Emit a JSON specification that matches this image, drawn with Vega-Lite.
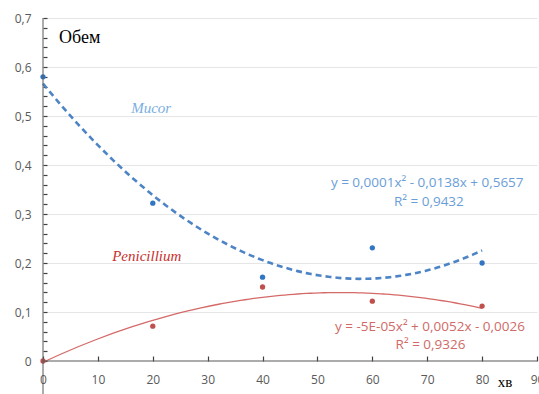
{
  "$schema": "https://vega.github.io/schema/vega-lite/v6.json",
  "autosize": "none",
  "width": 494,
  "height": 343,
  "padding": {"left": 43, "top": 18, "right": 2, "bottom": 33},
  "background": "white",
  "config": {
    "view": {"stroke": null},
    "font": "Open Sans",
    "axis": {"labelColor": "#595959", "labelFontSize": 12, "labelFont": "Open Sans", "labelFontWeight": "normal"}
  },
  "resolve": {"axis": {"y": "independent"}},
  "datasets": {
    "points": [
      {"series": "Mucor", "x": 0, "y": 0.58},
      {"series": "Mucor", "x": 20, "y": 0.322},
      {"series": "Mucor", "x": 40, "y": 0.171},
      {"series": "Mucor", "x": 60, "y": 0.231},
      {"series": "Mucor", "x": 80, "y": 0.2},
      {"series": "Penicillium", "x": 0, "y": 0.0},
      {"series": "Penicillium", "x": 20, "y": 0.071},
      {"series": "Penicillium", "x": 40, "y": 0.151},
      {"series": "Penicillium", "x": 60, "y": 0.122},
      {"series": "Penicillium", "x": 80, "y": 0.112}
    ]
  },
  "layer": [
    {
      "data": {"name": "points"},
      "transform": [
        {"filter": "datum.series == 'Mucor'"},
        {"regression": "y", "on": "x", "method": "poly", "order": 2, "extent": [0, 80]}
      ],
      "mark": {"type": "line", "color": "#4d84c6", "strokeWidth": 2.6, "strokeDash": [6, 4]},
      "encoding": {
        "x": {
          "field": "x", "type": "quantitative",
          "scale": {"domain": [0, 90], "nice": false, "zero": false},
          "axis": {
            "title": null, "orient": "bottom", "values": [0, 10, 20, 30, 40, 50, 60, 70, 80, 90],
            "grid": false, "domain": false, "offset": -5,
            "tickColor": "#404040", "tickSize": 5, "tickWidth": 1.2, "labelPadding": 13,
            "labelFlush": false, "labelOverlap": false
          }
        },
        "y": {
          "field": "y", "type": "quantitative",
          "scale": {"domain": [0, 0.7], "nice": false},
          "axis": {
            "title": null, "orient": "left",
            "values": [0, 0.02, 0.04, 0.06, 0.08, 0.1, 0.12, 0.14, 0.16, 0.18, 0.2, 0.22, 0.24, 0.26, 0.28, 0.3, 0.32, 0.34, 0.36, 0.38, 0.4, 0.42, 0.44, 0.46, 0.48, 0.5, 0.52, 0.54, 0.56, 0.58, 0.6, 0.62, 0.64, 0.66, 0.68, 0.7],
            "labelExpr": "round(datum.value * 50) % 5 != 0 ? '' : (round(datum.value * 10) == 0 ? '0' : replace(format(datum.value, '.1f'), '.', ','))",
            "labelOverlap": false, "labelFlush": false,
            "grid": false, "domain": false, "offset": -4,
            "tickColor": "#404040", "tickSize": 4, "tickWidth": 1.2, "labelPadding": 12
          }
        }
      }
    },
    {
      "data": {"name": "points"},
      "transform": [
        {"filter": "datum.series == 'Penicillium'"},
        {"regression": "y", "on": "x", "method": "poly", "order": 2, "extent": [0, 80]}
      ],
      "mark": {"type": "line", "color": "#d46a68", "strokeWidth": 1.3},
      "encoding": {
        "x": {"field": "x", "type": "quantitative"},
        "y": {
          "field": "y", "type": "quantitative",
          "axis": {
            "title": null, "orient": "right", "values": [0.1, 0.2, 0.3, 0.4, 0.5, 0.6, 0.7],
            "labels": false, "ticks": false, "domain": false,
            "grid": true, "gridColor": "#e6e6e6", "gridWidth": 1
          }
        }
      }
    },
    {
      "data": {"name": "points"},
      "mark": {"type": "point", "filled": true, "opacity": 1, "size": 28},
      "encoding": {
        "x": {"field": "x", "type": "quantitative"},
        "y": {"field": "y", "type": "quantitative", "axis": null},
        "color": {
          "field": "series", "type": "nominal", "legend": null,
          "scale": {"domain": ["Mucor", "Penicillium"], "range": ["#3176c4", "#c0504d"]}
        }
      }
    },
    {
      "data": {"values": [{}]},
      "mark": {"type": "rule", "color": "#595959", "strokeWidth": 1, "clip": false},
      "encoding": {
        "x": {"datum": 0},
        "y": {"datum": 0.7, "axis": null},
        "y2": {"datum": -0.07}
      }
    },
    {
      "data": {"values": [{}]},
      "mark": {"type": "rule", "color": "#595959", "strokeWidth": 1, "clip": false},
      "encoding": {
        "x": {"datum": 0},
        "x2": {"datum": 90},
        "y": {"datum": 0, "axis": null}
      }
    },
    {
      "data": {"values": [{}]},
      "mark": {"type": "text", "font": "Liberation Serif", "fontSize": 18, "color": "#000000", "align": "center", "baseline": "middle"},
      "encoding": {"x": {"datum": 6.7}, "y": {"datum": 0.659, "axis": null}, "text": {"value": "Обем"}}
    },
    {
      "data": {"values": [{}]},
      "mark": {"type": "text", "font": "Liberation Serif", "fontSize": 15, "fontStyle": "italic", "color": "#7aaee0", "align": "center", "baseline": "middle"},
      "encoding": {"x": {"datum": 19.7}, "y": {"datum": 0.516, "axis": null}, "text": {"value": "Mucor"}}
    },
    {
      "data": {"values": [{}]},
      "mark": {"type": "text", "font": "Liberation Serif", "fontSize": 15, "fontStyle": "italic", "color": "#c8302e", "align": "center", "baseline": "middle"},
      "encoding": {"x": {"datum": 18.9}, "y": {"datum": 0.214, "axis": null}, "text": {"value": "Penicillium"}}
    },
    {
      "data": {"values": [{}]},
      "mark": {"type": "text", "fontSize": 13.5, "color": "#6a9ed8", "align": "center", "baseline": "middle"},
      "encoding": {"x": {"datum": 70.0}, "y": {"datum": 0.363, "axis": null}, "text": {"value": "y = 0,0001x² - 0,0138x + 0,5657"}}
    },
    {
      "data": {"values": [{}]},
      "mark": {"type": "text", "fontSize": 13.5, "color": "#6a9ed8", "align": "center", "baseline": "middle"},
      "encoding": {"x": {"datum": 70.3}, "y": {"datum": 0.324, "axis": null}, "text": {"value": "R² = 0,9432"}}
    },
    {
      "data": {"values": [{}]},
      "mark": {"type": "text", "fontSize": 13.5, "color": "#d06a68", "align": "center", "baseline": "middle"},
      "encoding": {"x": {"datum": 70.5}, "y": {"datum": 0.069, "axis": null}, "text": {"value": "y = -5E-05x² + 0,0052x - 0,0026"}}
    },
    {
      "data": {"values": [{}]},
      "mark": {"type": "text", "fontSize": 13.5, "color": "#d06a68", "align": "center", "baseline": "middle"},
      "encoding": {"x": {"datum": 70.6}, "y": {"datum": 0.033, "axis": null}, "text": {"value": "R² = 0,9326"}}
    },
    {
      "data": {"values": [{}]},
      "mark": {"type": "text", "font": "Liberation Serif", "fontSize": 15, "color": "#000000", "align": "center", "baseline": "middle"},
      "encoding": {"x": {"datum": 84.2}, "y": {"datum": -0.043, "axis": null}, "text": {"value": "хв"}}
    }
  ]
}
